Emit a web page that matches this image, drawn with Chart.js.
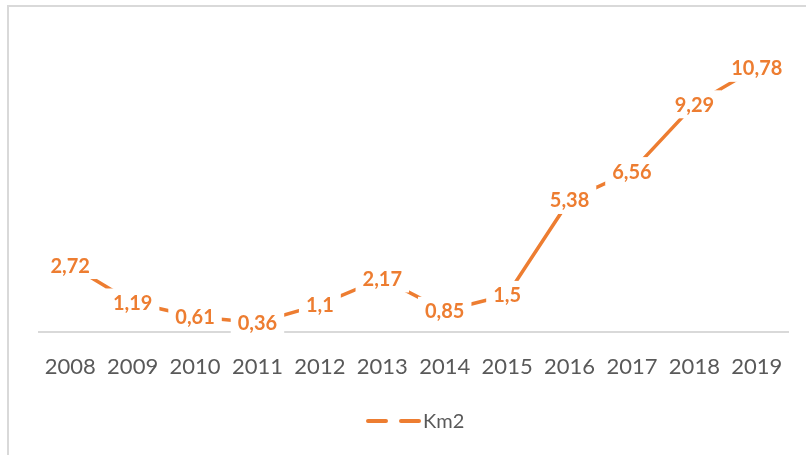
<!DOCTYPE html>
<html>
<head>
<meta charset="utf-8">
<script src="https://cdn.jsdelivr.net/npm/chart.js@4.4.1/dist/chart.umd.min.js"></script>
<style>
  html, body { margin: 0; padding: 0; background: #ffffff; overflow: hidden; }
  #wrap { position: relative; width: 806px; height: 455px; }
  #frame { position: absolute; left: 7px; top: 5px; width: 820px; height: 470px; border: 2px solid #d9d9d9; box-sizing: border-box; }
  canvas { position: absolute; left: 0; top: 0; }
</style>
</head>
<body>
<div id="wrap">
  <div id="frame"></div>
  <canvas id="kmChart" width="806" height="455"></canvas>
</div>
<script>
// data
const years = ['2008', '2009', '2010', '2011', '2012', '2013', '2014', '2015', '2016', '2017', '2018', '2019'];
const km2 = [2.72, 1.19, 0.61, 0.36, 1.1, 2.17, 0.85, 1.5, 5.38, 6.56, 9.29, 10.78];
const seriesName = 'Km2';

const orange = '#ED7D31';
const grey = '#595959';

// labels centered on the points, white box behind (cuts line + axis like Excel)
const pointLabels = {
  id: 'pointLabels',
  afterDatasetsDraw(chart) {
    const ctx = chart.ctx;
    const meta = chart.getDatasetMeta(0);
    ctx.save();
    ctx.font = 'bold 20px Lato';
    ctx.textAlign = 'center';
    ctx.textBaseline = 'middle';
    meta.data.forEach(function(pt, i) {
      const txt = String(km2[i]).replace('.', ',');
      const w = ctx.measureText(txt).width;
      ctx.fillStyle = '#ffffff';
      ctx.fillRect(pt.x - w / 2 - 7, pt.y - 14, w + 14, 28);
      ctx.fillStyle = orange;
      ctx.fillText(txt, pt.x, pt.y + 1);
    });
    ctx.restore();
  }
};

// bottom legend with dashed swatch
const dashLegend = {
  id: 'dashLegend',
  afterDraw(chart) {
    const ctx = chart.ctx;
    const y = 421;
    ctx.save();
    ctx.strokeStyle = orange;
    ctx.lineWidth = 4;
    ctx.lineCap = 'round';
    ctx.beginPath();
    ctx.moveTo(368, y); ctx.lineTo(386, y);
    ctx.moveTo(401, y); ctx.lineTo(419, y);
    ctx.stroke();
    ctx.fillStyle = grey;
    ctx.font = '20px Lato';
    ctx.textAlign = 'left';
    ctx.textBaseline = 'middle';
    ctx.fillText(seriesName, 423, y + 1);
    ctx.restore();
  }
};

new Chart(document.getElementById('kmChart'), {
  type: 'line',
  data: {
    labels: years,
    datasets: [{
      label: seriesName,
      data: km2,
      borderColor: orange,
      backgroundColor: orange,
      borderWidth: 3.5,
      pointRadius: 0,
      tension: 0,
      fill: false
    }]
  },
  options: {
    responsive: false,
    animation: false,
    layout: { padding: { left: 39, right: 18, top: 38, bottom: 53 } },
    plugins: {
      legend: { display: false },
      tooltip: { enabled: false }
    },
    scales: {
      x: {
        offset: true,
        grid: { display: false, drawTicks: false },
        border: { display: true, color: '#d9d9d9', width: 2 },
        ticks: { color: grey, font: { family: 'Lato', size: 22 }, padding: 22, maxRotation: 0, autoSkip: false }
      },
      y: {
        display: false,
        min: 0,
        max: 12
      }
    }
  },
  plugins: [pointLabels, dashLegend]
});
</script>
</body>
</html>
